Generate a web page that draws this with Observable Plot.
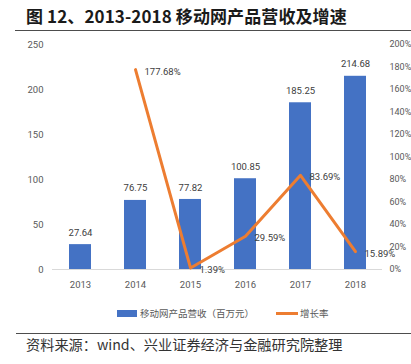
<!DOCTYPE html>
<html>
<head>
<meta charset="utf-8">
<script src="https://cdn.jsdelivr.net/npm/d3@7"></script>
<script src="https://cdn.jsdelivr.net/npm/@observablehq/plot@0.6"></script>
<style>
  html, body { margin: 0; padding: 0; background: #fff; }
  #wrap { position: relative; width: 411px; height: 364px; overflow: hidden; background: #fff; }
  #title { position: absolute; left: 26px; top: 4px; font-family: "Noto Sans CJK SC", sans-serif; font-weight: 700; font-size: 17px; letter-spacing: 0.1px; color: #1a1a1a; white-space: nowrap; line-height: 24px; }
  #tline { position: absolute; left: 15px; right: 0; top: 30px; height: 0; border-top: 1.5px solid #4d4d4d; }
  #chart { position: absolute; left: 0; top: 36px; }
  .leg { position: absolute; top: 304px; font-family: "Noto Sans CJK SC", sans-serif; font-size: 9.5px; color: #595959; line-height: 18px; white-space: nowrap; }
  #bline { position: absolute; left: 16px; right: 0; top: 333px; height: 0; border-top: 1px solid #4d4d4d; }
  #source { position: absolute; left: 26px; top: 335px; font-family: "Noto Sans CJK SC", sans-serif; font-size: 14.2px; color: #333; white-space: nowrap; line-height: 18px; }
</style>
</head>
<body>
<div id="wrap">
  <div id="title">图 12、2013-2018 移动网产品营收及增速</div>
  <div id="tline"></div>
  <div id="chart"></div>
  <div class="leg" style="left:117px;"><span style="display:inline-block;width:20px;height:7px;background:#4472C4;vertical-align:middle;margin-right:3px;position:relative;top:-1px;"></span>移动网产品营收（百万元）</div>
  <div class="leg" style="left:276px;"><span style="display:inline-block;width:22px;height:3px;background:#ED7D31;vertical-align:middle;margin-right:2px;position:relative;top:-1px;"></span>增长率</div>
  <div id="bline"></div>
  <div id="source">资料来源：wind、兴业证券经济与金融研究院整理</div>
</div>
<script>
const years = ["2013", "2014", "2015", "2016", "2017", "2018"];
const revenue = [27.64, 76.75, 77.82, 100.85, 185.25, 214.68];
const growthYears = ["2014", "2015", "2016", "2017", "2018"];
const growth = [177.68, 1.39, 29.59, 83.69, 15.89];
const leftTicks = [0, 50, 100, 150, 200, 250];
const rightTicks = [0, 20, 40, 60, 80, 100, 120, 140, 160, 180, 200];

const k = 250 / 200; // right axis (%) mapped onto left scale
const bars = years.map((y, i) => ({year: y, value: revenue[i]}));
const rates = growthYears.map((y, i) => ({year: y, rate: growth[i]}));

const chart = Plot.plot({
  width: 411,
  height: 264,
  marginLeft: 52,
  marginRight: 29,
  marginTop: 8,
  marginBottom: 31,
  style: {fontFamily: "Roboto, sans-serif", fontSize: "9.5px", color: "#595959", background: "transparent"},
  x: {domain: years, paddingInner: 0.6, paddingOuter: 0.3, label: null},
  y: {domain: [0, 250], label: null},
  marks: [
    Plot.axisY(leftTicks, {anchor: "left", tickSize: 0, tickPadding: 9, label: null}),
    Plot.axisY(rightTicks.map(v => v * k), {anchor: "right", tickSize: 0, tickPadding: 7, label: null, fontSize: 9,
      tickFormat: v => Math.round(v / k) + "%"}),
    Plot.axisX({tickSize: 0, tickPadding: 12, label: null}),
    Plot.ruleY([0], {stroke: "#d9d9d9"}),
    Plot.barY(bars, {x: "year", y: "value", fill: "#4472C4"}),
    Plot.text(bars, {x: "year", y: "value", text: d => d.value.toFixed(2), dy: -12, fill: "#404040"}),
    Plot.line(rates, {x: "year", y: d => d.rate * k, stroke: "#ED7D31", strokeWidth: 3}),
    Plot.text(rates, {x: "year", y: d => d.rate * k, text: d => d.rate.toFixed(2) + "%", textAnchor: "start", dx: 9, dy: 2, fill: "#404040"})
  ]
});
document.getElementById("chart").appendChild(chart);
</script>
</body>
</html>
